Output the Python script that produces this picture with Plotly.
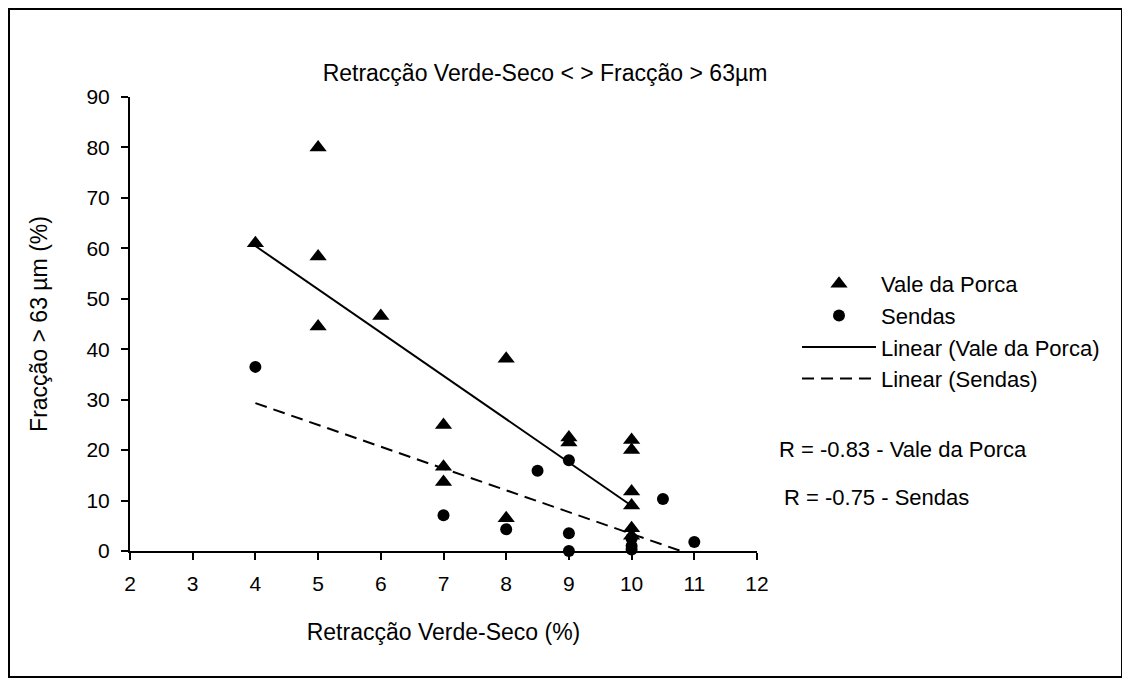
import numpy as np
import plotly.graph_objects as go

# Data
vp_x = [4, 5, 5, 5, 6, 7, 7, 7, 8, 8, 9, 9, 10, 10, 10, 10, 10, 10]
vp_y = [61, 80, 58.4, 44.5, 46.6, 25, 16.7, 13.7, 38.1, 6.5, 22.5, 21.5, 22, 20, 11.8, 9, 4.5, 3]
se_x = [4, 7, 8, 8.5, 9, 9, 9, 10, 10, 10, 10.5, 11]
se_y = [36.5, 7.1, 4.3, 15.9, 18, 3.5, 0, 2.5, 1, 0.3, 10.3, 1.8]
r_labels = ["R = -0.83 - Vale da Porca", "R = -0.75 - Sendas"]

FONT = "Liberation Sans, Arial, sans-serif"
PAGE = 8  # body margin of the html page

# plot area in page pixels
PX0, PX1, PY0, PY1 = 130, 757, 97, 551


def px(xp):
    return (xp - PX0) / (PX1 - PX0)


def py(yp):
    return (PY1 - yp) / (PY1 - PY0)


def trend(xs, ys):
    k, b = np.polyfit(xs, ys, 1)
    x0, x1 = min(xs), max(xs)
    return [x0, x1], [k * x0 + b, k * x1 + b]


fig = go.Figure()
fig.add_trace(go.Scatter(x=vp_x, y=vp_y, mode="markers", name="Vale da Porca",
                         marker=dict(symbol="triangle-up", size=15, color="black"),
                         cliponaxis=False))
fig.add_trace(go.Scatter(x=se_x, y=se_y, mode="markers", name="Sendas",
                         marker=dict(symbol="circle", size=12, color="black"),
                         cliponaxis=False))
tx, ty = trend(vp_x, vp_y)
fig.add_trace(go.Scatter(x=tx, y=ty, mode="lines", name="Linear (Vale da Porca)",
                         line=dict(color="black", width=2)))
tx, ty = trend(se_x, se_y)
fig.add_trace(go.Scatter(x=tx, y=ty, mode="lines", name="Linear (Sendas)",
                         line=dict(color="black", width=2, dash="12px,7px")))

W, H = 1130, 679
fig.update_layout(
    width=W, height=H,
    paper_bgcolor="white", plot_bgcolor="white",
    margin=dict(l=PX0 - PAGE, r=W - (PX1 - PAGE), t=PY0 - PAGE, b=H - (PY1 - PAGE)),
    font=dict(family=FONT, size=22, color="black"),
    title=dict(text="Retracção Verde-Seco &lt; &gt; Fracção &gt; 63µm",
               x=(545 - PAGE) / W, xanchor="center", y=1 - (73 - PAGE) / H, yanchor="middle",
               font=dict(size=23)),
    showlegend=True,
    legend=dict(x=px(797), y=py(263), xanchor="left", yanchor="top",
                font=dict(size=22), bgcolor="rgba(0,0,0,0)", tracegroupgap=0,
                itemwidth=74),
)
fig.update_xaxes(range=[2, 12], dtick=1, tick0=2, showline=True, linecolor="black",
                 linewidth=2, ticks="outside", ticklen=7, tickwidth=1.5, tickcolor="black",
                 showgrid=False, zeroline=False, tickfont=dict(size=21), ticklabelstandoff=6,
                 title=dict(text="Retracção Verde-Seco (%)", font=dict(size=23), standoff=30))
fig.update_yaxes(range=[0, 90], dtick=10, showline=True, linecolor="black",
                 linewidth=2, ticks="outside", ticklen=7, tickwidth=1.5, tickcolor="black",
                 showgrid=False, zeroline=False, tickfont=dict(size=21), ticklabelstandoff=7,
                 title=dict(text="Fracção &gt; 63 µm (%)", font=dict(size=23), standoff=32))

# Outer frame
fig.add_shape(type="rect", xref="paper", yref="paper",
              x0=px(PAGE + 1), x1=px(1122),
              y0=py(677), y1=py(PAGE + 1),
              line=dict(color="black", width=2), fillcolor="rgba(0,0,0,0)")

fig.add_annotation(text=r_labels[0], xref="paper", yref="paper",
                   x=px(777), y=py(450), xanchor="left", yanchor="middle",
                   showarrow=False, font=dict(size=22))
fig.add_annotation(text=r_labels[1], xref="paper", yref="paper",
                   x=px(782), y=py(497), xanchor="left", yanchor="middle",
                   showarrow=False, font=dict(size=22))

fig.write_html("out.html")
